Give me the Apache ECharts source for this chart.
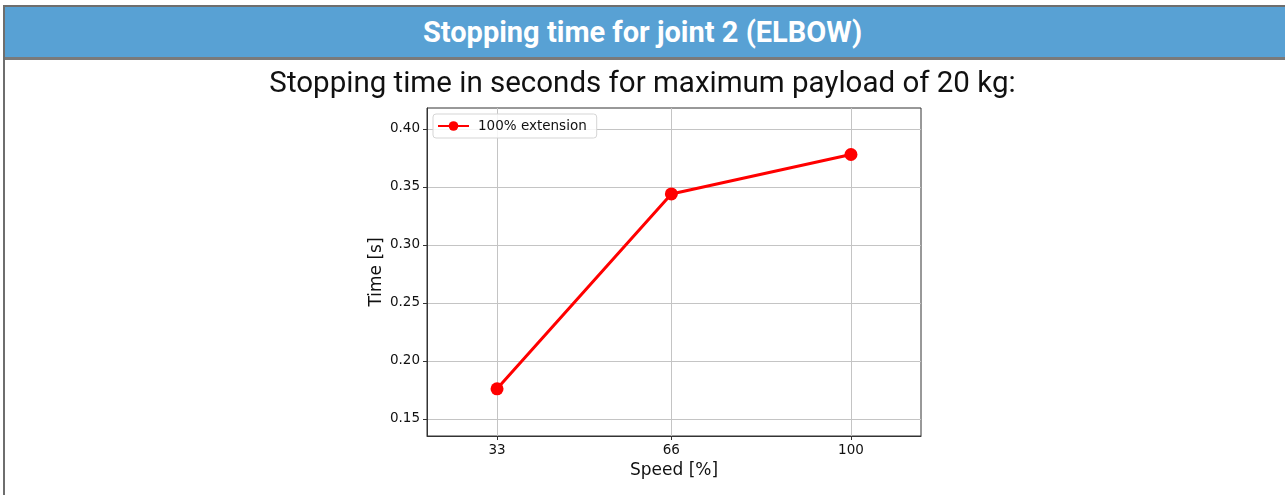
<!DOCTYPE html>
<html>
<head>
<meta charset="utf-8">
<script src="https://cdn.jsdelivr.net/npm/echarts@6/dist/echarts.min.js"></script>
<style>
  html, body { margin: 0; padding: 0; width: 1285px; height: 495px; overflow: hidden; background: #fff; }
  #frame { position: absolute; left: 3px; top: 5px; width: 1282px; height: 490px; border-left: 2px solid #6e6e6e; border-top: 2px solid #6e6e6e; box-sizing: border-box; }
  #header { position: absolute; left: 5px; top: 7px; width: 1280px; height: 50px; background: #58a1d4; border-bottom: 3px solid #7a7a7a;
            color: #fff; font-family: Roboto, sans-serif; font-weight: bold; font-size: 29px; line-height: 50px; text-align: center; overflow: hidden; }
  #headtext { position: absolute; left: -5px; top: 0; width: 1285px; text-align: center; }
  #chart { position: absolute; left: 0; top: 0; width: 1285px; height: 495px; }
</style>
</head>
<body>
<div id="frame"></div>
<div id="header"><div id="headtext">Stopping time for joint 2 (ELBOW)</div></div>
<div id="chart"></div>
<script>
const pageTitle = "Stopping time for joint 2 (ELBOW)";
const chartTitle = "Stopping time in seconds for maximum payload of 20 kg:";
const seriesName = "100% extension";
const speeds = [33, 66, 100];
const times = [0.176, 0.344, 0.378];
const yTicks = [0.15, 0.20, 0.25, 0.30, 0.35, 0.40];
const xTicks = [33, 66, 100];
const xLabel = "Speed [%]";
const yLabel = "Time [s]";

const chart = echarts.init(document.getElementById('chart'), null, { renderer: 'canvas' });
const tickFont = { fontFamily: 'DejaVu Sans', fontSize: 13.5, color: '#111' };
chart.setOption({
  animation: false,
  backgroundColor: 'transparent',
  title: {
    text: chartTitle, left: 'center', top: 65,
    textStyle: { fontFamily: 'Roboto', fontWeight: 'normal', fontSize: 29.5, color: '#111' }
  },
  legend: {
    left: 433, top: 114, padding: [5, 10, 5, 4],
    borderColor: '#d5d5d5', borderWidth: 1, borderRadius: 3,
    backgroundColor: 'rgba(255,255,255,0.85)',
    itemWidth: 31, itemHeight: 12,
    textStyle: { fontFamily: 'DejaVu Sans', fontSize: 13.5, color: '#111', padding: [0, 0, 0, 4] },
    data: [seriesName]
  },
  grid: { left: 427, top: 108, width: 494, height: 328, show: true, borderColor: '#333', borderWidth: 1, containLabel: false },
  xAxis: {
    type: 'value', min: 19.74, max: 113.26,
    name: xLabel, nameLocation: 'middle', nameGap: 22,
    nameTextStyle: { fontFamily: 'DejaVu Sans', fontSize: 17, color: '#111' },
    axisLine: { show: true, lineStyle: { color: '#333' } },
    axisTick: { show: true, length: 4, lineStyle: { color: '#333' }, customValues: xTicks },
    axisLabel: Object.assign({ margin: 7, customValues: xTicks, formatter: v => String(v) }, tickFont),
    splitLine: { show: true, lineStyle: { color: '#c4c4c4', width: 1 } }
  },
  yAxis: {
    type: 'value', min: 0.1353, max: 0.4181,
    name: yLabel, nameLocation: 'middle', nameGap: 42, nameRotate: 90,
    nameTextStyle: { fontFamily: 'DejaVu Sans', fontSize: 17, color: '#111' },
    axisLine: { show: true, lineStyle: { color: '#333' } },
    axisTick: { show: true, length: 4, lineStyle: { color: '#333' }, customValues: yTicks },
    axisLabel: Object.assign({ margin: 7, customValues: yTicks, formatter: v => v.toFixed(2) }, tickFont),
    splitLine: { show: true, lineStyle: { color: '#c4c4c4', width: 1 } }
  },
  series: [{
    name: seriesName, type: 'line',
    data: speeds.map((s, i) => [s, times[i]]),
    symbol: 'circle', symbolSize: 13,
    lineStyle: { color: '#ff0000', width: 3 },
    itemStyle: { color: '#ff0000' }
  }]
});
</script>
</body>
</html>
